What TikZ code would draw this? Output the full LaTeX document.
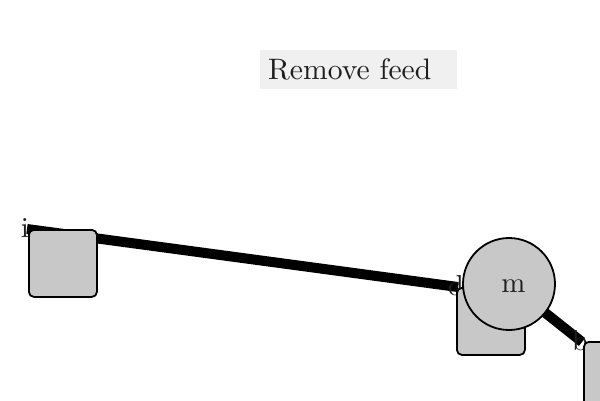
\documentclass[tikz,border=0pt]{standalone}
\usetikzlibrary{positioning}
\definecolor{boxgray}{HTML}{C8C8C8}
\definecolor{bannergray}{HTML}{F0F0F0}
\definecolor{inkgray}{HTML}{1E1E1E}
\newcommand{\bigtxt}[1]{\scalebox{2.9}{#1}}
\tikzset{
  unitbox/.style={draw=black,fill=boxgray,line width=1.8bp,rounded corners=5bp,
    minimum width=68bp,minimum height=67bp,anchor=north west,inner sep=0pt},
  pinlbl/.style={inner sep=0pt,text=inkgray},
  feedline/.style={line width=10bp},
}
\begin{document}
\begin{tikzpicture}[x=1bp,y=-1bp]
  \useasboundingbox (0,0) rectangle (600,400);
  % banner
  \fill[bannergray] (260,50) rectangle (457,89);
  \node[pinlbl,anchor=base west] (title) at (268,79) {\scalebox{2.97}{Remove feed}};
  % pins
  \coordinate (i) at (27,229);
  \coordinate (d) at (458,287);
  \coordinate (b) at (582,342);
  \coordinate (m) at (509,284);
  \draw[feedline] (i)--(d);
  \draw[feedline] (m)--(b);
  \foreach \p in {i,d,b}
    \node[pinlbl] (lbl\p) at ([xshift=-2bp,yshift=1bp]\p) {\bigtxt{\p}};
  % boxes
  \node[unitbox] (boxi) at (28,229) {};
  \node[unitbox] (boxd) at (456,287) {};
  \node[unitbox] (boxb) at (583,341) {};
  % motor
  \node[circle,draw=black,fill=boxgray,line width=1.8bp,minimum size=92bp,inner sep=0pt] (motor) at (m) {};
  \node[pinlbl] (mlbl) at (513.5,286) {\bigtxt{m}};
\end{tikzpicture}
\end{document}
